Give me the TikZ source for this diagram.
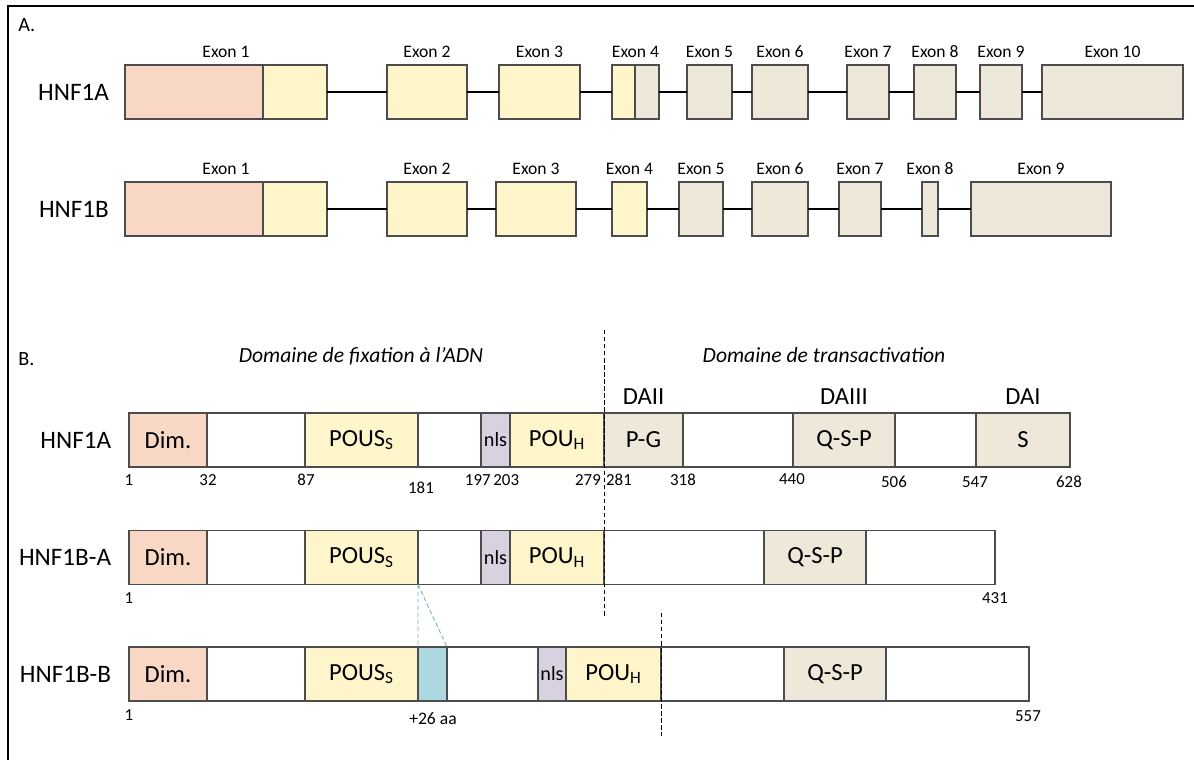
\documentclass[tikz,border=0pt]{standalone}
\usepackage{fontspec}
\setmainfont{Carlito}
\usetikzlibrary{positioning}

\definecolor{dimcol}{RGB}{248,215,197}
\definecolor{poucol}{RGB}{255,245,203}
\definecolor{tadcol}{RGB}{237,232,217}
\definecolor{nlscol}{RGB}{216,209,223}
\definecolor{inscol}{RGB}{173,216,226}
\definecolor{inslin}{RGB}{120,170,200}

\begin{document}
\begin{tikzpicture}[x=0.02cm,y=-0.02cm,
        exon/.style={draw=black!70,line width=0.6pt,minimum height=1.08cm,inner sep=0pt,outer sep=0pt},
        seg/.style={draw=black!70,line width=0.6pt,minimum height=1.08cm,inner sep=0pt,outer sep=0pt,font=\fontsize{14}{16}\selectfont},
        lbl/.style={font=\fontsize{10}{12}\selectfont,inner sep=0pt,label distance=3.8pt},
        part/.style={font=\fontsize{11.5}{13}\selectfont,inner sep=0pt,anchor=west},
        namelbl/.style={font=\fontsize{14.3}{17}\selectfont,inner sep=0pt},
        dom/.style={font=\fontsize{14}{16}\selectfont,inner sep=0pt},
        head/.style={font=\fontsize{12.3}{15}\selectfont\itshape,inner sep=0pt},
        num/.style={font=\fontsize{9.6}{11}\selectfont,inner sep=0pt},
        intron/.style={line width=0.6pt},
        sep/.style={line width=0.5pt,dash pattern=on 2.5pt off 1.5pt}]
    \useasboundingbox (0,0) rectangle (1194,760);
    \draw[line width=1.1pt] (8,760) |- (1194,6);

    % A. exons
    \node[part] (partA) at (18,25) {A.};
    \foreach \i/\xa/\xb/\c in {1/125/327/poucol,2/387/467/poucol,3/499/580/poucol,4/612/659/tadcol,5/687/732/tadcol,
            6/752/808/tadcol,7/847/889/tadcol,8/914/956/tadcol,9/980/1022/tadcol,10/1042/1183/tadcol}
        \node[exon,fill=\c,minimum width={(\xb-\xa)*0.02cm},label={[lbl]above:Exon \i}] (a\i) at ({(\xa+\xb)/2},92) {};
    \node[exon,fill=dimcol,minimum width=2.76cm,anchor=west] (a1u) at (a1.west) {};
    \node[exon,fill=poucol,minimum width=0.46cm,anchor=west] (a4u) at (a4.west) {};
    \foreach \i [evaluate=\i as \j using int(\i+1)] in {1,...,9}
        \draw[intron] (a\i.east) -- (a\j.west);
    \node[namelbl,left=9pt of a1] (gA) {HNF1A};

    \foreach \i/\xa/\xb/\c in {1/125/327/poucol,2/387/467/poucol,3/496/576/poucol,4/612/647/poucol,5/679/723/tadcol,
            6/752/808/tadcol,7/839/881/tadcol,8/922/938/tadcol,9/971/1111/tadcol}
        \node[exon,fill=\c,minimum width={(\xb-\xa)*0.02cm},label={[lbl]above:Exon \i}] (b\i) at ({(\xa+\xb)/2},209) {};
    \node[exon,fill=dimcol,minimum width=2.76cm,anchor=west] (b1u) at (b1.west) {};
    \foreach \i [evaluate=\i as \j using int(\i+1)] in {1,...,8}
        \draw[intron] (b\i.east) -- (b\j.west);
    \node[namelbl,left=9pt of b1] (gB) {HNF1B};

    % B. proteins
    \node[part] (partB) at (18,359) {B.};
    \node[head,anchor=base] (hdna) at (361,362) {Domaine de fixation à l’ADN};
    \node[head,anchor=base] (htad) at (824,362) {Domaine de transactivation};

    \foreach \n/\xa/\xb/\c/\t in {dim/129/207/dimcol/Dim.,wa/207/305/white/{},pous/305/418/poucol/{POUS\textsubscript{S}},
            wb/418/481/white/{},nls/481/510/nlscol/{\fontsize{11.5}{13}\selectfont nls},pouh/510/604/poucol/{POU\textsubscript{H}},
            pg/604/683/tadcol/P-G,wc/683/793/white/{},qsp/793/895/tadcol/Q-S-P,wd/895/976/white/{},s/976/1070/tadcol/S}
        \node[seg,fill=\c,minimum width={(\xb-\xa)*0.02cm}] (r1\n) at ({(\xa+\xb)/2},440) {\t};
    \node[namelbl,left=10pt of r1dim] (pA) {HNF1A};
    \node[dom,above=4.5pt of r1pg] (daii) {DAII};
    \node[dom,above=4.5pt of r1qsp] (daiii) {DAIII};
    \node[dom,above=4.5pt of r1s] (dai) {DAI};
    \foreach \v/\x/\y [count=\k] in {1/129/480,32/208/480,87/306/480,181/421/488,{197\,203}/492/480,279/588/480,
            281/619/480,318/683/480,440/792/479,506/894/482,547/975/482,628/1069/482}
        \node[num] (na\k) at (\x,\y) {\v};

    \foreach \n/\xa/\xb/\c/\t in {dim/129/207/dimcol/Dim.,wa/207/305/white/{},pous/305/418/poucol/{POUS\textsubscript{S}},
            wb/418/481/white/{},nls/481/510/nlscol/{\fontsize{11.5}{13}\selectfont nls},pouh/510/604/poucol/{POU\textsubscript{H}},
            wc/604/764/white/{},qsp/764/866/tadcol/Q-S-P,wd/866/995/white/{}}
        \node[seg,fill=\c,minimum width={(\xb-\xa)*0.02cm}] (r2\n) at ({(\xa+\xb)/2},557.5) {\t};
    \node[namelbl,left=10pt of r2dim] (pBA) {HNF1B-A};
    \node[num] (nb1) at (129,598) {1};
    \node[num] (nb2) at (995,598) {431};

    \foreach \n/\xa/\xb/\c/\t in {dim/129/207/dimcol/Dim.,wa/207/305/white/{},pous/305/418/poucol/{POUS\textsubscript{S}},
            ins/418/447/inscol/{},wb/447/538/white/{},nls/538/566/nlscol/{\fontsize{11.5}{13}\selectfont nls},
            pouh/566/661/poucol/{POU\textsubscript{H}},wc/661/784/white/{},qsp/784/886/tadcol/Q-S-P,wd/886/1029/white/{}}
        \node[seg,fill=\c,minimum width={(\xb-\xa)*0.02cm}] (r3\n) at ({(\xa+\xb)/2},674) {\t};
    \node[namelbl,left=10pt of r3dim] (pBB) {HNF1B-B};
    \node[num] (nc1) at (129,715) {1};
    \node[num] (nc2) at (1028,716) {557};
    \node[num,font=\fontsize{10}{12}\selectfont] (nins) at (433,719) {+26 aa};

    % limits and insertion
    \coordinate (s1top) at (604,330);
    \coordinate (s1bot) at (604,618);
    \coordinate (s2top) at (661,613);
    \coordinate (s2bot) at (661,736);
    \draw[sep] (s1top) -- (s1bot);
    \draw[sep] (s2top) -- (s2bot);
    \draw[sep,inslin] (r2pous.south east) -- (r3ins.north west)
                      (r2pous.south east) -- (r3ins.north east);
\end{tikzpicture}
\end{document}
